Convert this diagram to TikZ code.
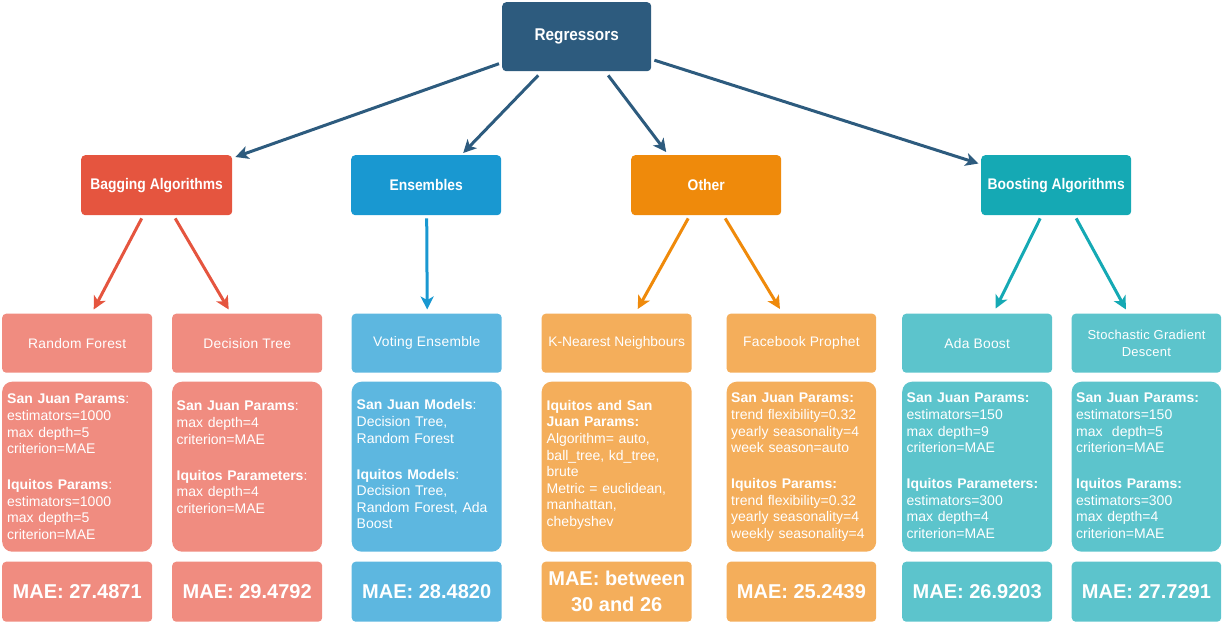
\documentclass[tikz,border=0pt]{standalone}
\usepackage{fontspec}
\setmainfont{Liberation Sans}
\newfontfamily\narrowfont[FakeStretch=0.9]{Liberation Sans}
\newfontfamily\namefont[LetterSpace=2]{Liberation Sans}
\usetikzlibrary{arrows.meta}
\definecolor{cdark}{HTML}{2D5B7E}
\definecolor{cred}{HTML}{E5553F}
\definecolor{cblue}{HTML}{1998D1}
\definecolor{corange}{HTML}{EF8A0B}
\definecolor{cteal}{HTML}{15A9B4}
\definecolor{lred}{HTML}{F08C80}
\definecolor{lblue}{HTML}{5DB7E0}
\definecolor{lorange}{HTML}{F4AE5B}
\definecolor{lteal}{HTML}{5CC4CC}
\tikzset{
  box/.style={rectangle, rounded corners=4pt, inner sep=0pt, text=white, align=center, anchor=north west},
  cat/.style={box, minimum height=60pt, font=\narrowfont\bfseries\fontsize{15.4}{18}\selectfont},
  namebox/.style={box, minimum height=59pt, font=\namefont\fontsize{13.8}{17}\selectfont},
  parbox/.style={box, rounded corners=10pt, minimum height=170pt},
  maebox/.style={box, minimum height=60pt, font=\bfseries\fontsize{20}{26}\selectfont},
  ptext/.style={anchor=north west, inner sep=0pt, text=white, align=left, text width=145pt, font=\fontsize{14}{16.6}\selectfont},
  arr/.style={line width=3pt, -{Stealth[length=13pt, width=13pt, inset=3.5pt]}},
}
\begin{document}
\begin{tikzpicture}[x=1pt, y=-1pt]
\useasboundingbox (0,0) rectangle (1223,623);
% top
\node[box, fill=cdark, minimum width=149pt, minimum height=69pt, font=\narrowfont\bfseries\fontsize{17}{20}\selectfont] (reg) at (502,2) {Regressors};
% categories
\node[cat, fill=cred, minimum width=151pt] (bag) at (81,155) {Bagging Algorithms};
\node[cat, fill=cblue, minimum width=150pt] (ens) at (351,155) {Ensembles};
\node[cat, fill=corange, minimum width=150pt] (oth) at (631,155) {Other};
\node[cat, fill=cteal, minimum width=150pt] (bst) at (981,155) {Boosting Algorithms};
% name boxes
\node[namebox, fill=lred, minimum width=150pt] (rf) at (2,313.5) {Random Forest};
\node[namebox, fill=lred, minimum width=150pt] (dt) at (172,313.5) {Decision Tree};
\node[namebox, fill=lblue, minimum width=150pt] (ve) at (351.5,313.5) {Voting Ensemble};
\node[namebox, fill=lorange, minimum width=150pt, font=\fontsize{13.8}{17}\selectfont] (knn) at (541.5,313.5) {K-Nearest Neighbours};
\node[namebox, fill=lorange, minimum width=149.5pt] (fp) at (726.5,313.5) {Facebook Prophet};
\node[namebox, fill=lteal, minimum width=150pt] (ada) at (902,313.5) {Ada Boost};
\node[namebox, fill=lteal, minimum width=149.5pt, font=\namefont\fontsize{13}{17}\selectfont] (sgd) at (1071.5,313.5) {Stochastic Gradient\\Descent};
% parameter boxes
\node[parbox, fill=lred, minimum width=150pt] (prf) at (2,381.5) {};
\node[parbox, fill=lred, minimum width=150pt] (pdt) at (172,381.5) {};
\node[parbox, fill=lblue, minimum width=150pt] (pve) at (351.5,381.5) {};
\node[parbox, fill=lorange, minimum width=150pt] (pknn) at (541.5,381.5) {};
\node[parbox, fill=lorange, minimum width=149.5pt] (pfp) at (726.5,381.5) {};
\node[parbox, fill=lteal, minimum width=150pt] (pada) at (902,381.5) {};
\node[parbox, fill=lteal, minimum width=149.5pt] (psgd) at (1071.5,381.5) {};
% parameter texts
\node[ptext] (trf) at ([xshift=5pt,yshift=-12.5pt]prf.north west) {\textbf{San Juan Params}:\\estimators=1000\\max depth=5\\criterion=MAE\\[19.4pt]\textbf{Iquitos Params}:\\estimators=1000\\max depth=5\\criterion=MAE};
\node[ptext] (tdt) at ([xshift=4.5pt,yshift=-19.5pt]pdt.north west) {\textbf{San Juan Params}:\\max depth=4\\criterion=MAE\\[19.4pt]\textbf{Iquitos Parameters}:\\max depth=4\\criterion=MAE};
\node[ptext] (tve) at ([xshift=5pt,yshift=-18pt]pve.north west) {\textbf{San Juan Models}:\\Decision Tree,\\Random Forest\\[19.4pt]\textbf{Iquitos Models}:\\Decision Tree,\\Random Forest, Ada\\Boost};
\node[ptext] (tknn) at ([xshift=5pt,yshift=-18.5pt]pknn.north west) {\textbf{Iquitos and San}\\\textbf{Juan Params:}\\Algorithm= auto,\\ball\_tree, kd\_tree,\\brute\\Metric = euclidean,\\manhattan,\\chebyshev};
\node[ptext] (tfp) at ([xshift=4.5pt,yshift=-11.5pt]pfp.north west) {\textbf{San Juan Params:}\\trend flexibility=0.32\\yearly seasonality=4\\week season=auto\\[19.4pt]\textbf{Iquitos Params:}\\trend flexibility=0.32\\yearly seasonality=4\\weekly seasonality=4};
\node[ptext] (tada) at ([xshift=4.5pt,yshift=-11.5pt]pada.north west) {\textbf{San Juan Params:}\\estimators=150\\max depth=9\\criterion=MAE\\[19.4pt]\textbf{Iquitos Parameters:}\\estimators=300\\max depth=4\\criterion=MAE};
\node[ptext] (tsgd) at ([xshift=4.5pt,yshift=-11.5pt]psgd.north west) {\textbf{San Juan Params:}\\estimators=150\\max\ \ depth=5\\criterion=MAE\\[19.4pt]\textbf{Iquitos Params:}\\estimators=300\\max depth=4\\criterion=MAE};
% MAE boxes
\node[maebox, fill=lred, minimum width=150pt] (mrf) at (2,561.5) {MAE: 27.4871};
\node[maebox, fill=lred, minimum width=150pt] (mdt) at (172,561.5) {MAE: 29.4792};
\node[maebox, fill=lblue, minimum width=150pt] (mve) at (351.5,561.5) {MAE: 28.4820};
\node[maebox, fill=lorange, minimum width=150pt] (mknn) at (541.5,561.5) {MAE: between\\30 and 26};
\node[maebox, fill=lorange, minimum width=149.5pt] (mfp) at (726.5,561.5) {MAE: 25.2439};
\node[maebox, fill=lteal, minimum width=150pt] (mada) at (902,561.5) {MAE: 26.9203};
\node[maebox, fill=lteal, minimum width=149.5pt] (msgd) at (1071.5,561.5) {MAE: 27.7291};
% arrows from top
\draw[arr, cdark] ([xshift=-3pt,yshift=-27pt]reg.west) -- ([xshift=3pt,yshift=-2pt]bag.north east);
\draw[arr, cdark] ([xshift=-38.5pt,yshift=-4pt]reg.south) -- ([xshift=37pt,yshift=2pt]ens.north);
\draw[arr, cdark] ([xshift=31.5pt,yshift=-4pt]reg.south) -- ([xshift=-40pt,yshift=3pt]oth.north);
\draw[arr, cdark] ([xshift=3pt,yshift=-23.5pt]reg.east) -- ([xshift=-2.5pt,yshift=-8.5pt]bst.north west);
% arrows to leaves
\draw[arr, cred] ([xshift=-15pt,yshift=-3pt]bag.south) -- ([xshift=16.5pt,yshift=4pt]rf.north);
\draw[arr, cred] ([xshift=18.5pt,yshift=-3pt]bag.south) -- ([xshift=-18.5pt,yshift=4pt]dt.north);
\draw[arr, cblue] ([xshift=0.5pt,yshift=-3pt]ens.south) -- ([xshift=0.5pt,yshift=4pt]ve.north);
\draw[arr, corange] ([xshift=-18pt,yshift=-3pt]oth.south) -- ([xshift=21pt,yshift=4.5pt]knn.north);
\draw[arr, corange] ([xshift=19pt,yshift=-3pt]oth.south) -- ([xshift=-21.5pt,yshift=4.5pt]fp.north);
\draw[arr, cteal] ([xshift=-16pt,yshift=-3pt]bst.south) -- ([xshift=18.5pt,yshift=5pt]ada.north);
\draw[arr, cteal] ([xshift=20pt,yshift=-3pt]bst.south) -- ([xshift=-20.5pt,yshift=4pt]sgd.north);
\end{tikzpicture}
\end{document}
